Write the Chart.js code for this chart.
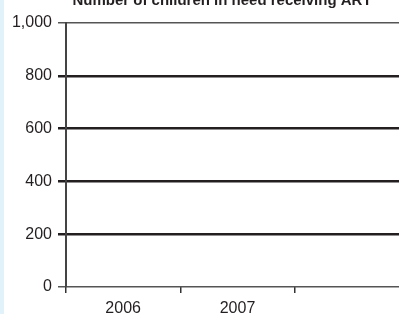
<!DOCTYPE html>
<html>
<head>
<meta charset="utf-8">
<script src="https://cdn.jsdelivr.net/npm/chart.js@4"></script>
<style>
  html, body { margin: 0; padding: 0; background: #fff; overflow: hidden; }
  #wrap { position: absolute; left: 0; top: 0; width: 409px; height: 330px; }
  #strip { position: absolute; left: 0; top: 0; width: 4px; height: 314px; background: #e1f2fb; z-index: 2; }
</style>
</head>
<body>
<div id="strip"></div>
<div id="wrap"><canvas id="art"></canvas></div>
<script>
const years = ['2006', '2007', ''];
const childrenOnArt = [null, null, null];
const yTicks = [0, 200, 400, 600, 800, 1000];
const chartTitle = 'Number of children in need receiving ART';
const tickFont = '"Liberation Sans", Arial, sans-serif';

const titlePlugin = {
    id: 'cutTitle',
    afterDraw(chart) {
        const c = chart.ctx;
        c.save();
        c.font = 'bold 15px "Liberation Sans", Arial, sans-serif';
        c.fillStyle = '#231f20';
        c.textAlign = 'center';
        c.textBaseline = 'alphabetic';
        c.fillText(chartTitle, chart.chartArea.left + 156, 5);
        c.restore();
    }
};

const ctx = document.getElementById('art');
new Chart(ctx, {
    type: 'bar',
    data: {
        labels: years,
        datasets: [{
            label: 'Children receiving ART',
            data: childrenOnArt,
            backgroundColor: '#1d5b79'
        }]
    },
    options: {
        responsive: true,
        maintainAspectRatio: false,
        animation: false,
        layout: { padding: { top: 23, left: 0, right: 0, bottom: 0 } },
        plugins: {
            legend: { display: false },
            tooltip: { enabled: false }
        },
        scales: {
            x: {
                afterFit: (s) => { s.height = 43; },
                border: { display: false },
                grid: {
                    offset: true,
                    drawOnChartArea: false,
                    drawTicks: true,
                    tickLength: 6,
                    color: '#333',
                    lineWidth: 1.5
                },
                ticks: {
                    padding: 6,
                    color: '#231f20',
                    font: { family: tickFont, size: 16 }
                }
            },
            y: {
                min: 0,
                max: 1000,
                afterFit: (s) => { s.width = 66; },
                afterBuildTicks: (s) => { s.ticks = yTicks.map(v => ({ value: v })); },
                border: { display: true, color: '#444', width: 2 },
                grid: {
                    tickLength: 8,
                    color: (c) => (c.tick && (c.tick.value === 0 || c.tick.value === 1000)) ? '#555' : '#231f20',
                    lineWidth: (c) => (c.tick && (c.tick.value === 0 || c.tick.value === 1000)) ? 1.5 : 2.5
                },
                ticks: {
                    padding: 6,
                    color: '#231f20',
                    font: { family: tickFont, size: 16 },
                    callback: (v) => v.toLocaleString('en-US')
                }
            }
        }
    },
    plugins: [titlePlugin]
});
</script>
</body>
</html>
